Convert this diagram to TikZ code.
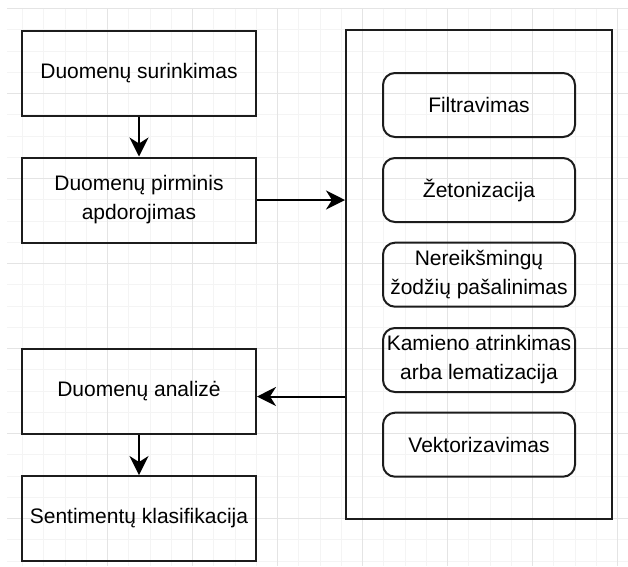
\documentclass[tikz,border=0pt]{standalone}
\usepackage{fontspec}
\setmainfont{Liberation Sans}
\usepackage{xcolor}
\usepackage{tikz}
\usetikzlibrary{arrows.meta}
\definecolor{gridminor}{HTML}{F4F4F4}
\definecolor{gridmajor}{HTML}{E4E4E4}
\definecolor{edgedark}{HTML}{1C1C1C}

\tikzset{
  stagebox/.style={draw=edgedark, line width=2pt, minimum width=234pt, minimum height=85pt,
    inner sep=0pt, align=center, font=\fontsize{21}{29}\selectfont},
  stepbox/.style={draw=edgedark, line width=2pt, rounded corners=12pt, minimum width=192pt,
    minimum height=64pt, inner sep=0pt, align=center, font=\fontsize{21}{29}\selectfont},
  frame/.style={draw=edgedark, line width=2pt, minimum width=266pt, minimum height=489pt, inner sep=0pt},
  flow/.style={draw=black, line width=2pt, -{Stealth[length=19pt, width=19pt, inset=6pt]}}
}

\begin{document}
\begin{tikzpicture}[x=1pt, y=-1pt]
    \useasboundingbox[fill=white] (0,0) rectangle (628,566);
    \foreach \k in {0,...,28}{
      \pgfmathsetmacro\gx{22.5+21.25*\k}
      \draw[gridminor, line width=1pt] (\gx,8.5) -- (\gx,566);}
    \foreach \k in {0,...,26}{
      \pgfmathsetmacro\gy{8.5+21.25*\k}
      \draw[gridminor, line width=1pt] (7,\gy) -- (628,\gy);}
    \foreach \m in {0,...,6}{
      \pgfmathsetmacro\gx{107.5+85*\m}
      \pgfmathsetmacro\gy{8.5+85*\m}
      \draw[gridmajor, line width=1pt] (\gx,8.5) -- (\gx,566);
      \draw[gridmajor, line width=1pt] (7,\gy) -- (628,\gy);}

    \node[stagebox] (collect)  at (139,73)    {Duomenų surinkimas};
    \node[stagebox] (preproc)  at (139,200)   {Duomenų pirminis\\apdorojimas};
    \node[stagebox] (analysis) at (139,391.5) {Duomenų analizė};
    \node[stagebox] (classif)  at (139,518.5) {Sentimentų klasifikacija};

    \node[frame] (frame) at (479,274.5) {};
    \node[stepbox] (filter) at (479,105)   {Filtravimas};
    \node[stepbox] (token)  at (479,190)   {Žetonizacija};
    \node[stepbox] (stopw)  at (479,274.7) {Nereikšmingų\\žodžių pašalinimas};
    \node[stepbox] (stem)   at (479,360)   {Kamieno atrinkimas\\arba lematizacija};
    \node[stepbox] (vector) at (479,444.7) {Vektorizavimas};

    \coordinate (back) at ([yshift=-5pt]analysis.east);
    \draw[flow] (collect) -- (preproc);
    \draw[flow] (preproc.east) -- (preproc.east -| frame.west);
    \draw[flow] (back -| frame.west) -- (back);
    \draw[flow] (analysis) -- (classif);
\end{tikzpicture}
\end{document}
